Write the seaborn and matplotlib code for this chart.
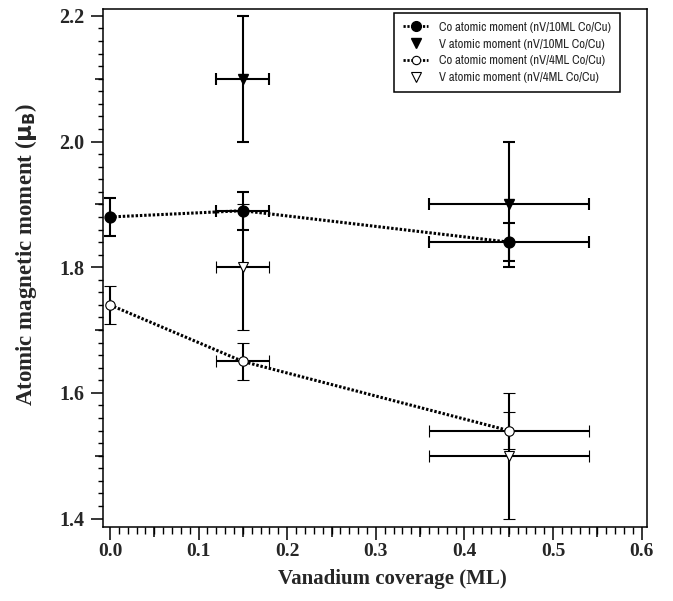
import numpy as np
import pandas as pd
import seaborn as sns
import matplotlib
matplotlib.use("Agg")
import matplotlib.pyplot as plt
from matplotlib.lines import Line2D
from matplotlib.ticker import MultipleLocator, FormatStrFormatter

# ---- data ----
coverage = [0.0, 0.15, 0.45]
cov_err = [0.0, 0.03, 0.09]

co10 = [1.88, 1.89, 1.84]
co10_err = [0.03, 0.03, 0.03]
v10_x = [0.15, 0.45]
v10 = [2.10, 1.90]
v10_err = [0.10, 0.10]
v10_xerr = [0.03, 0.09]

co4 = [1.74, 1.65, 1.54]
co4_err = [0.03, 0.03, 0.03]
v4_x = [0.15, 0.45]
v4 = [1.80, 1.50]
v4_err = [0.10, 0.10]
v4_xerr = [0.03, 0.09]

labels = ["Co atomic moment (nV/10ML Co/Cu)",
          "V atomic moment (nV/10ML Co/Cu)",
          "Co atomic moment (nV/4ML Co/Cu)",
          "V atomic moment (nV/4ML Co/Cu)"]

sns.set_theme(style="ticks")
plt.rcParams['font.family'] = ['Liberation Serif', 'DejaVu Serif']

fig = plt.figure(figsize=(6.73, 6.01), dpi=100)
ax = fig.add_axes([0.1526, 0.1236, 0.8088, 0.8614])

df10 = pd.DataFrame({"x": coverage, "y": co10})
df4 = pd.DataFrame({"x": coverage, "y": co4})
dot = (0, (0.8, 0.6))
sns.lineplot(data=df10, x="x", y="y", ax=ax, color="black", lw=2.2,
             linestyle=dot, legend=False, zorder=2)
sns.lineplot(data=df4, x="x", y="y", ax=ax, color="black", lw=2.2,
             linestyle=dot, legend=False, zorder=2)

ekw = dict(ecolor="black", elinewidth=1.5, capsize=4, capthick=1.5, ls="none", zorder=3)
ax.errorbar(coverage, co10, yerr=co10_err, xerr=cov_err, fmt="o", ms=7.8,
            mfc="black", mec="black", **ekw)
ax.errorbar(v10_x, v10, yerr=v10_err, xerr=v10_xerr, fmt="v", ms=7.5,
            mfc="black", mec="black", **ekw)
ax.errorbar(coverage, co4, yerr=co4_err, xerr=cov_err, fmt="o", ms=6.8,
            mfc="white", mec="black", mew=0.8, **ekw)
ax.errorbar(v4_x, v4, yerr=v4_err, xerr=v4_xerr, fmt="v", ms=7.5,
            mfc="white", mec="black", mew=0.8, **ekw)

ax.set_xlim(-0.0082, 0.606)
ax.set_ylim(1.387, 2.211)

ax.xaxis.set_major_locator(MultipleLocator(0.1))
ax.xaxis.set_minor_locator(MultipleLocator(0.01))
ax.yaxis.set_major_locator(MultipleLocator(0.2))
ax.yaxis.set_minor_locator(MultipleLocator(0.02))
ax.xaxis.set_major_formatter(FormatStrFormatter('%.1f'))
ax.yaxis.set_major_formatter(FormatStrFormatter('%.1f'))

ax.tick_params(axis='x', which='major', direction='out', length=9, width=1.1,
               labelsize=14, color='black', top=False, pad=3)
ax.tick_params(axis='y', which='major', direction='out', length=8.6, width=1.1,
               labelsize=14.5, color='black', right=False, pad=4.5)
ax.tick_params(axis='x', which='minor', direction='out', length=4.8, width=1.0,
               color='black', top=False)
ax.tick_params(axis='y', which='minor', direction='out', length=3.6, width=1.0,
               color='black', right=False)
for lab in ax.get_xticklabels() + ax.get_yticklabels():
    lab.set_fontweight('bold')

secx = ax.secondary_xaxis('bottom')
secx.set_xticks(np.arange(0.05, 0.6, 0.1))
secx.tick_params(length=7.2, width=1.1, labelbottom=False, color='black')
secx.spines['bottom'].set_visible(False)
secy = ax.secondary_yaxis('left')
secy.set_yticks([1.5, 1.7, 1.9, 2.1])
secy.tick_params(length=6, width=1.1, labelleft=False, color='black')
secy.spines['left'].set_visible(False)

for s in ax.spines.values():
    s.set_linewidth(1.1)
    s.set_color('black')

ax.set_xlabel("Vanadium coverage (ML)", fontsize=15, fontweight='bold')
ax.xaxis.set_label_coords(0.532, -0.082)
ax.set_ylabel(r"Atomic magnetic moment ($\mathbf{\mu_B}$)", fontsize=16.5,
              fontweight='bold')
ax.yaxis.set_label_coords(-0.117, 0.526)

handles = [
    Line2D([], [], color='black', lw=2.0, linestyle=dot, marker='o', ms=7, mfc='black'),
    Line2D([], [], color='black', lw=0, marker='v', ms=7, mfc='black'),
    Line2D([], [], color='black', lw=2.0, linestyle=dot, marker='o', ms=6, mfc='white', mew=0.8),
    Line2D([], [], color='black', lw=0, marker='v', ms=7, mfc='white', mew=0.8),
]
leg = ax.legend(handles, labels, loc='upper right', bbox_to_anchor=(0.950, 0.993),
                fancybox=False, frameon=True, edgecolor='black', framealpha=1,
                prop={'family': ['Archivo Narrow', 'Liberation Sans'], 'size': 9.2},
                handlelength=2.0, handletextpad=0.8, labelspacing=0.45,
                borderpad=0.72, borderaxespad=0.0)
leg.get_frame().set_linewidth(1.1)

fig.savefig("out.png", dpi=100)
